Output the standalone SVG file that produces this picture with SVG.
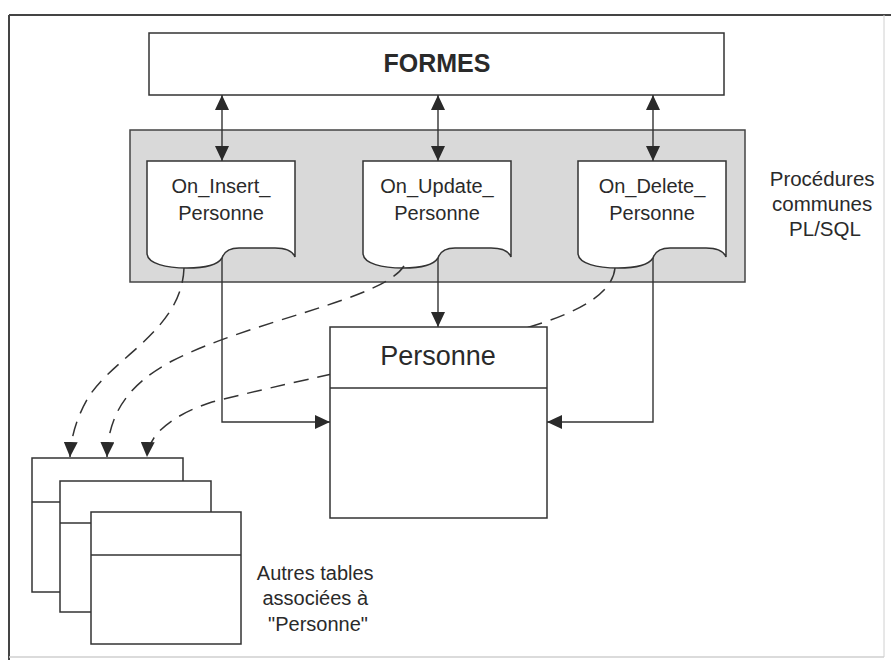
<svg xmlns="http://www.w3.org/2000/svg" width="891" height="660" viewBox="0 0 891 660">
  <style>
    .box { fill: #ffffff; stroke: #333333; stroke-width: 1.5; }
    .grp { fill: #d9d9d9; stroke: #444444; stroke-width: 1.5; }
    .lbl { font-family: "Liberation Sans", Arial, sans-serif; fill: #2a2a2a; text-anchor: middle; }
    .con { fill: none; stroke: #333333; stroke-width: 1.4; }
    .dash { fill: none; stroke: #333333; stroke-width: 1.5; stroke-dasharray: 15 9; }
  </style>
  <defs>
    <marker id="tri" viewBox="0 0 15 14" refX="15" refY="7" markerWidth="15" markerHeight="14" markerUnits="userSpaceOnUse" orient="auto-start-reverse">
      <path d="M0,0 L15,7 L0,14 Z" fill="#2a2a2a"/>
    </marker>
  </defs>

  <rect width="891" height="660" fill="#ffffff"/>

  <!-- page frame -->
  <g id="frame">
    <line x1="9" y1="15" x2="891" y2="15" stroke="#444" stroke-width="2"/>
    <line x1="9" y1="15" x2="9" y2="660" stroke="#444" stroke-width="2"/>
    <line x1="884" y1="15" x2="884" y2="657" stroke="#d0d0d0" stroke-width="1"/>
    <line x1="9" y1="657" x2="884" y2="657" stroke="#cfcfcf" stroke-width="1.5"/>
  </g>

  <!-- forms layer -->
  <g id="formes">
    <rect class="box" x="149" y="33" width="575" height="62"/>
    <text class="lbl" x="437" y="72" font-size="25" font-weight="bold">FORMES</text>
  </g>

  <!-- shared PL/SQL procedures -->
  <g id="procedures">
    <rect class="grp" x="130" y="130" width="615" height="152"/>
    <text class="lbl" font-size="20.5">
      <tspan x="825" y="186">Procédures</tspan>
      <tspan x="825" y="211">communes</tspan>
      <tspan x="825" y="236">PL/SQL</tspan>
    </text>
  </g>

  <g id="on_insert">
    <path class="box" d="M147,161 H295 V257 C293,252 287,248 275,248 H239 C230,248 224,252 222,258 C217,266 202,268 187,268 C167,268 147,264 147,253 Z"/>
    <text class="lbl" font-size="20"><tspan x="221" y="193">On_Insert_</tspan><tspan x="221" y="220">Personne</tspan></text>
  </g>

  <g id="on_update">
    <path class="box" d="M363,161 H511 V257 C509,252 503,248 491,248 H455 C446,248 440,252 438,258 C433,266 418,268 403,268 C383,268 363,264 363,253 Z"/>
    <text class="lbl" font-size="20"><tspan x="437" y="193">On_Update_</tspan><tspan x="437" y="220">Personne</tspan></text>
  </g>

  <g id="on_delete">
    <path class="box" d="M578,161 H726 V257 C724,252 718,248 706,248 H670 C661,248 655,252 653,258 C648,266 633,268 618,268 C598,268 578,264 578,253 Z"/>
    <text class="lbl" font-size="20"><tspan x="652" y="193">On_Delete_</tspan><tspan x="652" y="220">Personne</tspan></text>
  </g>

  <!-- connectors -->
  <g id="connectors">
    <line class="con" x1="222" y1="95" x2="222" y2="161" marker-start="url(#tri)" marker-end="url(#tri)"/>
    <line class="con" x1="438" y1="95" x2="438" y2="161" marker-start="url(#tri)" marker-end="url(#tri)"/>
    <line class="con" x1="653" y1="95" x2="653" y2="161" marker-start="url(#tri)" marker-end="url(#tri)"/>

    <path class="con" d="M222,258 V422 H330" marker-end="url(#tri)"/>
    <path class="con" d="M438,258 V327" marker-end="url(#tri)"/>
    <path class="con" d="M653,258 V422 H547" marker-end="url(#tri)"/>

    <path class="dash" d="M184,268 C182,330 112,358 88,398 C77,417 71,436 70,457" marker-end="url(#tri)"/>
    <path class="dash" d="M404,266 C382,300 252,320 172,361 C127,385 108,415 107,457" marker-end="url(#tri)"/>
    <path class="dash" d="M615,268 C612,300 560,320 500,335 C400,360 282,384 212,402 C172,415 148,435 147,457" marker-end="url(#tri)"/>
  </g>

  <!-- main table -->
  <g id="personne">
    <rect class="box" x="330" y="327" width="217" height="191"/>
    <line x1="330" y1="388" x2="547" y2="388" stroke="#333" stroke-width="1.5"/>
    <text class="lbl" x="438" y="365" font-size="27">Personne</text>
  </g>

  <!-- related tables, stacked -->
  <g id="autres_tables">
    <rect class="box" x="32" y="458" width="151" height="134"/>
    <line x1="32" y1="502" x2="183" y2="502" stroke="#333" stroke-width="1.5"/>
    <rect class="box" x="60" y="481" width="151" height="131"/>
    <line x1="60" y1="523" x2="211" y2="523" stroke="#333" stroke-width="1.5"/>
    <rect class="box" x="91" y="512" width="150" height="132"/>
    <line x1="91" y1="555" x2="241" y2="555" stroke="#333" stroke-width="1.5"/>
    <text class="lbl" font-size="20">
      <tspan x="318" y="580">Autres tables</tspan>
      <tspan x="318" y="605">associées à</tspan>
      <tspan x="318" y="631">"Personne"</tspan>
    </text>
  </g>
</svg>
